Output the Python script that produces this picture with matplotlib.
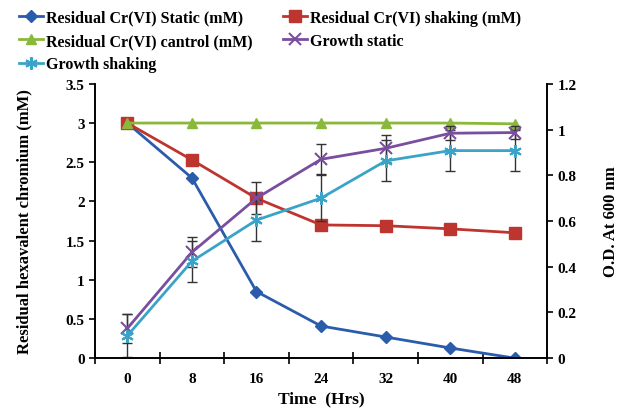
import matplotlib.pyplot as plt
import numpy as np
from matplotlib.ticker import FuncFormatter, MultipleLocator

plt.rcParams["font.family"] = ["Liberation Serif", "DejaVu Serif"]
plt.rcParams["font.weight"] = "bold"

hours = [0, 8, 16, 24, 32, 40, 48]

# residual Cr(VI), mM (left axis)
cr_static = [3.0, 2.30, 0.85, 0.41, 0.27, 0.13, 0.0]
cr_shaking = [3.0, 2.53, 2.04, 1.70, 1.69, 1.65, 1.60]
cr_control = [3.0, 3.0, 3.0, 3.0, 3.0, 3.0, 2.99]

# growth, O.D. 600 nm (right axis)
growth_static = [0.13, 0.463, 0.70, 0.87, 0.918, 0.984, 0.987]
growth_static_err = [0.065, 0.065, 0.07, 0.065, 0.06, 0.03, 0.03]
growth_shaking = [0.098, 0.424, 0.604, 0.70, 0.863, 0.908, 0.908]
growth_shaking_err = [0.095, 0.09, 0.09, 0.10, 0.09, 0.09, 0.09]

fig = plt.figure(figsize=(6.21, 4.10), dpi=100)
ax = fig.add_axes([0.153, 0.124, 0.728, 0.669])
ax2 = ax.twinx()

blue = "#2B5BAB"
red = "#BE3530"
green = "#8AB83A"
purple = "#7A4E9E"
cyan = "#3AA4C8"

l1, = ax.plot(hours, cr_static, color=blue, marker="D", ms=6, lw=2, label="Residual Cr(VI) Static (mM)")
l2, = ax.plot(hours, cr_shaking, color=red, marker="s", ms=9, lw=2, label="Residual Cr(VI) shaking (mM)")
l3, = ax.plot(hours, cr_control, color=green, marker="^", ms=7, lw=2, label="Residual Cr(VI) cantrol (mM)")

ax2.errorbar(hours, growth_static, yerr=growth_static_err, fmt="none", ecolor="#333333", elinewidth=1, capsize=3.5)
ax2.errorbar(hours, growth_shaking, yerr=growth_shaking_err, fmt="none", ecolor="#333333", elinewidth=1, capsize=3.5)
l4, = ax2.plot(hours, growth_static, color=purple, marker="x", ms=8, mew=1.5, lw=2, label="Growth static")
l5, = ax2.plot(hours, growth_shaking, color=cyan, marker=(6, 2, 0), ms=9, mew=1.5, lw=2, label="Growth shaking")

ax.set_xlim(-4, 52)
ax.set_ylim(0, 3.5)
ax2.set_ylim(0, 1.2)
ax.set_xticks(hours)
ax.xaxis.set_minor_locator(MultipleLocator(8, offset=4))
ax.tick_params(axis="x", which="major", length=0, labelsize=11, pad=10)
ax.tick_params(axis="x", which="minor", length=8, direction="inout", width=1.2)
ax.yaxis.set_major_locator(MultipleLocator(0.5))
ax2.yaxis.set_major_locator(MultipleLocator(0.2))
fmt = FuncFormatter(lambda v, p: f"{v:g}")
ax.yaxis.set_major_formatter(fmt)
ax2.yaxis.set_major_formatter(fmt)
ax.tick_params(axis="y", length=4, width=1.2, labelsize=11)
ax2.tick_params(axis="y", length=4, width=1.2, labelsize=11)

for a in (ax, ax2):
    a.spines["top"].set_visible(False)
    for s in ("left", "right", "bottom"):
        a.spines[s].set_linewidth(1.2)

ax.set_xlabel("Time  (Hrs)", fontsize=12.5, fontweight="bold", labelpad=4)
ax.set_ylabel("Residual hexavalent chromium (mM)", fontsize=12, fontweight="bold", labelpad=24)
ax2.set_ylabel("O.D. At 600 nm", fontsize=12, fontweight="bold", labelpad=19)

# row-major order like the original legend
fig.legend(handles=[l1, l3, l5, l2, l4], ncol=2, loc="upper left", bbox_to_anchor=(0.015, 0.997),
           frameon=False, prop={"size": 11.5, "weight": "bold"}, handlelength=1.5,
           handletextpad=0.2, columnspacing=1.9, labelspacing=0.45, borderaxespad=0.2)

fig.savefig("out.png", dpi=100)
